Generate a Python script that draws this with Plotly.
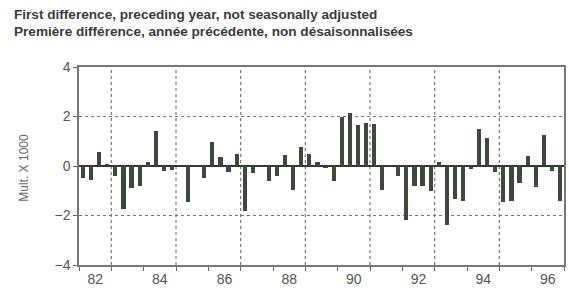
import plotly.graph_objects as go

years = list(range(1982, 1997))
quarters = [1, 2, 3, 4]
values = [
    -0.5, -0.55, 0.55, 0.05,     # 1982
    -0.4, -1.75, -0.9, -0.8,     # 1983
    0.15, 1.4, -0.2, -0.15,      # 1984
    0.03, -1.45, 0.03, -0.5,     # 1985
    0.95, 0.35, -0.25, 0.5,      # 1986
    -1.8, -0.3, 0.03, -0.6,      # 1987
    -0.4, 0.45, -0.95, 0.75,     # 1988
    0.5, 0.15, -0.05, -0.6,      # 1989
    2.0, 2.15, 1.65, 1.75,       # 1990
    1.7, -0.95, 0.02, -0.4,      # 1991
    -2.2, -0.8, -0.8, -1.0,      # 1992
    0.15, -2.4, -1.35, -1.4,     # 1993
    -0.12, 1.5, 1.15, -0.25,     # 1994
    -1.45, -1.4, -0.7, 0.4,      # 1995
    -0.85, 1.25, -0.2, -1.4,     # 1996
]
tick_labels = ["82", "84", "86", "88", "90", "92", "94", "96"]
label_years = [1982, 1984, 1986, 1988, 1990, 1992, 1994, 1996]
grid_years = [1983, 1985, 1987, 1989, 1991, 1993, 1995]
y_ticks = [-4, -2, 0, 2, 4]
title_lines = [
    "First difference, preceding year, not seasonally adjusted",
    "Première différence, année précédente, non désaisonnalisées",
]

x_pos = [y + (q - 0.5) / 4 for y in years for q in quarters]

fig = go.Figure()
fig.add_trace(go.Bar(
    x=x_pos, y=values, width=0.13,
    marker=dict(color="#3b4a39", line=dict(width=0)),
    hoverinfo="x+y",
))

for gy in grid_years:
    fig.add_shape(type="line", xref="x", yref="y", x0=gy, x1=gy, y0=-4, y1=4,
                  line=dict(color="#777", width=1.2, dash="dot"), layer="below")

L, T, PW, PH = 79, 67, 487, 199
for i, (line, ypx) in enumerate(zip(title_lines, [14, 31])):
    fig.add_annotation(
        text="<b>" + line + "</b>", xref="paper", yref="paper",
        x=(12 - L) / PW, y=(T + PH - ypx) / PH, xanchor="left", yanchor="middle",
        showarrow=False,
        font=dict(size=13.6, color="#3a3a3a", family="Liberation Sans, Arial, sans-serif"),
    )
fig.add_annotation(
    text="Mult. X 1000", xref="paper", yref="paper",
    x=(24 - L) / PW, y=(T + PH - 168) / PH, xanchor="center", yanchor="middle",
    textangle=-90, showarrow=False,
    font=dict(size=12, color="#666", family="Liberation Sans, Arial, sans-serif"),
)

fig.update_layout(
    width=569, height=290,
    margin=dict(l=L, r=569 - L - PW, t=T, b=290 - T - PH),
    paper_bgcolor="white", plot_bgcolor="white",
    showlegend=False, bargap=0,
    font=dict(family="Liberation Sans, Arial, sans-serif", color="#444"),
    xaxis=dict(
        range=[1982, 1997],
        tickmode="array",
        tickvals=[y + 0.5 for y in label_years],
        ticktext=tick_labels,
        ticks="", showgrid=False, zeroline=False,
        showline=True, mirror=True, linecolor="#777", linewidth=1.5,
        tickfont=dict(size=14, color="#555"),
        minor=dict(tickvals=years + [1997], ticks="outside", ticklen=4,
                   tickcolor="#666", showgrid=False),
    ),
    yaxis=dict(
        range=[-4, 4],
        tickmode="array", tickvals=y_ticks,
        ticks="outside", ticklen=4, tickcolor="#666",
        showgrid=True, gridcolor="#777", griddash="dot", gridwidth=1.2,
        zeroline=True, zerolinecolor="#2f3a2e", zerolinewidth=1.5,
        showline=True, mirror=True, linecolor="#777", linewidth=1.5,
        tickfont=dict(size=14, color="#555"),
    ),
)

fig.write_html(
    "out.html",
    config={"displayModeBar": False},
    post_script="document.body.style.margin='0';document.body.style.overflow='hidden';",
)
